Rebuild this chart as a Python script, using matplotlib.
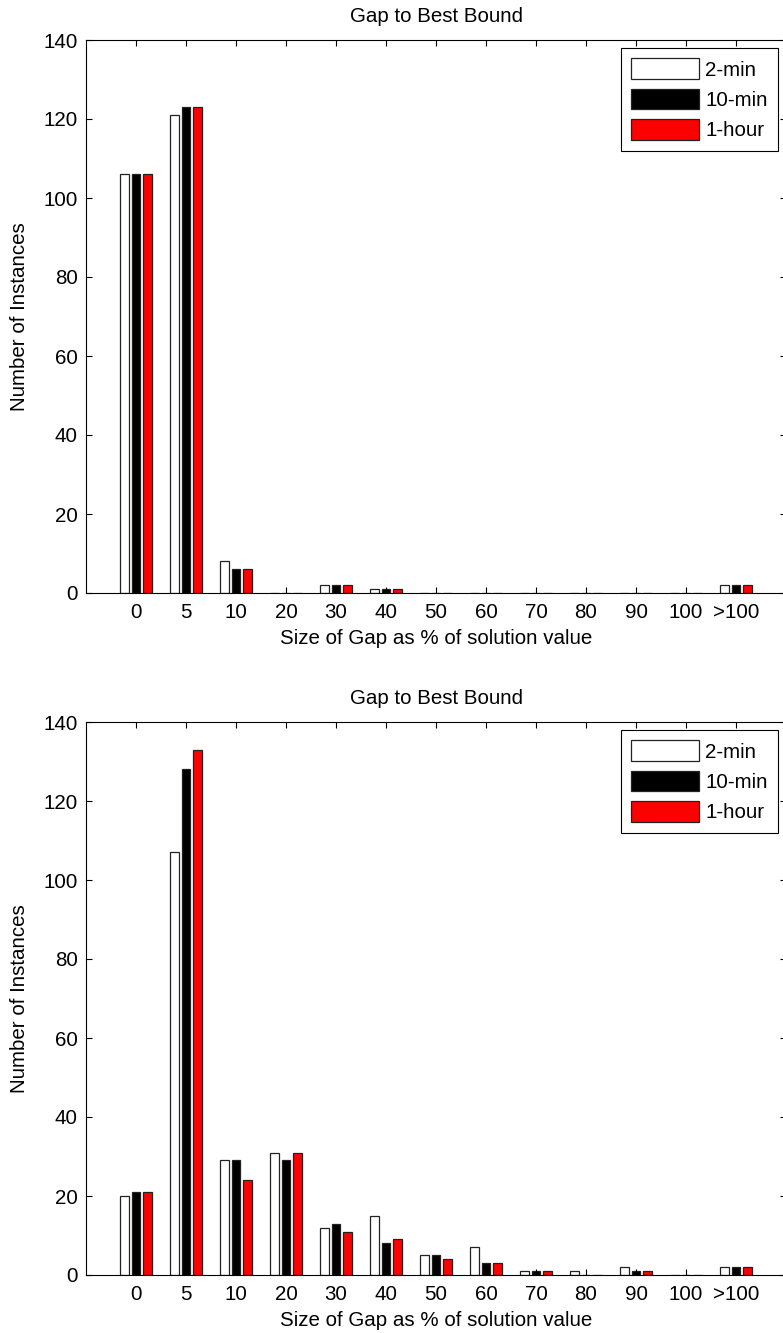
import numpy as np
import matplotlib
matplotlib.use("Agg")
import matplotlib.pyplot as plt

plt.rcParams['font.family'] = ['Liberation Sans', 'DejaVu Sans']

categories = ['0', '5', '10', '20', '30', '40', '50', '60', '70', '80', '90', '100', '>100']
series_names = ['2-min', '10-min', '1-hour']
series_colors = ['white', 'black', 'red']

top_2min = [106, 121, 8, 0, 2, 1, 0, 0, 0, 0, 0, 0, 2]
top_10min = [106, 123, 6, 0, 2, 1, 0, 0, 0, 0, 0, 0, 2]
top_1hour = [106, 123, 6, 0, 2, 1, 0, 0, 0, 0, 0, 0, 2]

bot_2min = [20, 107, 29, 31, 12, 15, 5, 7, 1, 1, 2, 0, 2]
bot_10min = [21, 128, 29, 29, 13, 8, 5, 3, 1, 0, 1, 0, 2]
bot_1hour = [21, 133, 24, 31, 11, 9, 4, 3, 1, 0, 1, 0, 2]

title = 'Gap to Best Bound'
xlabel = 'Size of Gap as % of solution value'
ylabel = 'Number of Instances'

W, H = 783, 1333
fig = plt.figure(figsize=(W / 100, H / 100), dpi=100)
FS = 14.8


def make_axes(top_px, bottom_px, left_px=86, right_px=786):
    return fig.add_axes([left_px / W, 1 - bottom_px / H,
                         (right_px - left_px) / W, (bottom_px - top_px) / H])


def draw(ax, data):
    x = np.arange(1, len(categories) + 1)
    gw = 3 / 4.5
    step = gw / 3
    bw = step * 0.8
    for i, (vals, name, col) in enumerate(zip(data, series_names, series_colors)):
        ax.bar(x + (i - 1) * step, vals, width=bw, color=col, edgecolor='#222222',
               linewidth=0.9, label=name)
    ax.set_xlim(0, len(categories) + 1)
    ax.set_ylim(0, 140)
    ax.set_xticks(x)
    ax.set_xticklabels(categories)
    ax.set_yticks(np.arange(0, 141, 20))
    ax.tick_params(direction='in', top=True, right=True, length=4, width=0.8,
                   labelsize=FS, colors='black')
    ax.tick_params(axis='x', pad=7)
    ax.tick_params(axis='y', pad=6)
    for s in ax.spines.values():
        s.set_linewidth(0.8)
    ax.set_title(title, fontsize=FS, pad=13)
    ax.set_xlabel(xlabel, fontsize=FS, labelpad=5)
    ax.set_ylabel(ylabel, fontsize=FS, labelpad=10)
    leg = ax.legend(loc='upper right', fontsize=FS, handlelength=3.3, handleheight=1.15,
                    labelspacing=0.45, handletextpad=0.3, borderpad=0.5,
                    borderaxespad=0.4, fancybox=False, framealpha=1,
                    edgecolor='black')
    leg.get_frame().set_linewidth(0.8)


ax1 = make_axes(40, 593)
draw(ax1, [top_2min, top_10min, top_1hour])
ax2 = make_axes(722, 1275)
draw(ax2, [bot_2min, bot_10min, bot_1hour])

fig.savefig('out.png', dpi=100)
